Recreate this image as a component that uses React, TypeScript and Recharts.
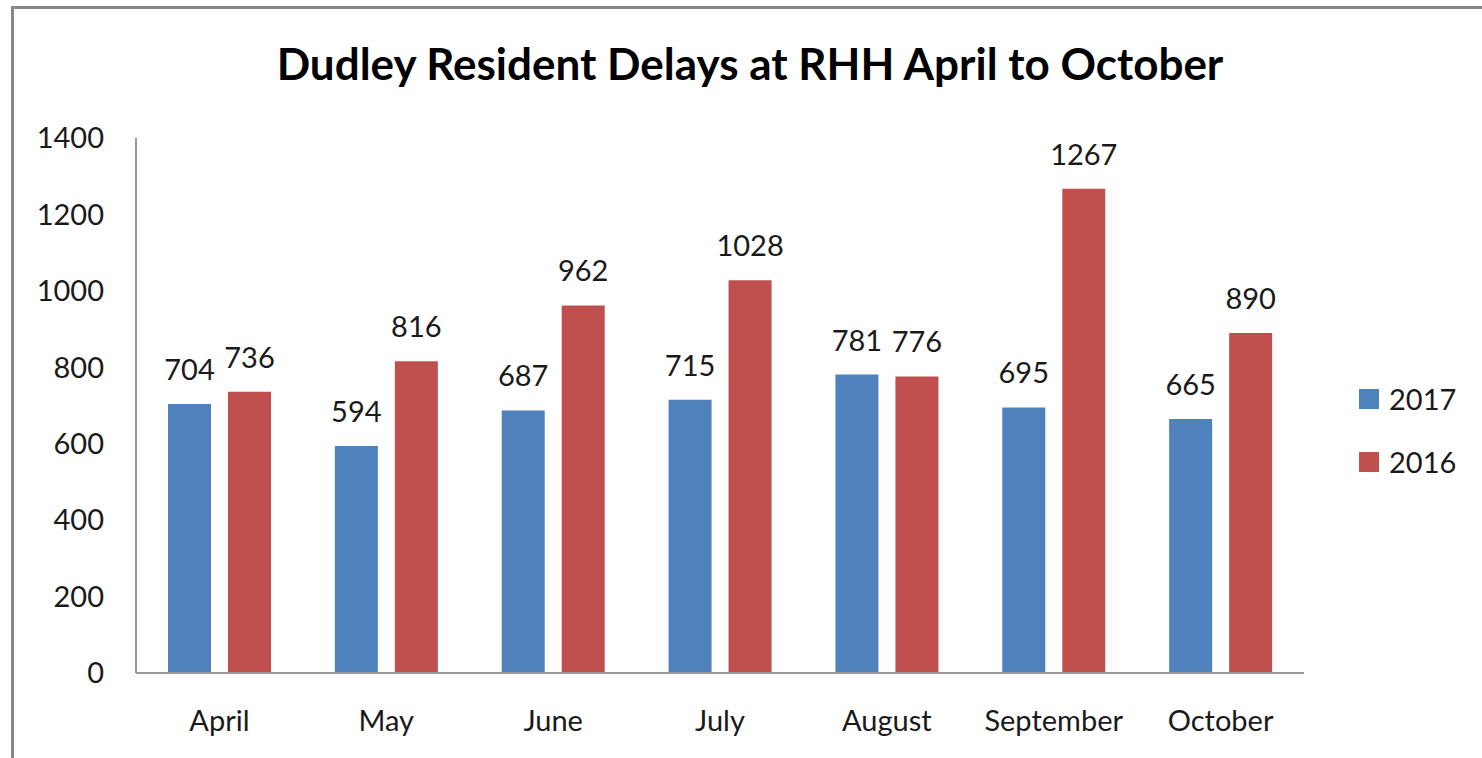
import { Bar, BarChart, LabelList, Legend, XAxis, YAxis } from "recharts";

const months = ["April", "May", "June", "July", "August", "September", "October"];
const delays2017 = [704, 594, 687, 715, 781, 695, 665];
const delays2016 = [736, 816, 962, 1028, 776, 1267, 890];
const yTicks = [0, 200, 400, 600, 800, 1000, 1200, 1400];
const legendOrder = ["2017", "2016"];

const BLUE = "#4F81BD";
const RED = "#C0504D";
const FONT = "Lato, 'Open Sans', sans-serif";
const TEXT = "#1a1a1a";

const data = months.map((m, i) => ({
  month: m,
  y2017: delays2017[i],
  y2016: delays2016[i],
}));

function LegendBox({ payload }: { payload?: any[] }) {
  const items = [...(payload ?? [])].sort(
    (a, b) => legendOrder.indexOf(a.value) - legendOrder.indexOf(b.value)
  );
  return (
    <div style={{ fontFamily: FONT, fontSize: 29, color: TEXT }}>
      {items.map((p) => (
        <div
          key={p.value}
          style={{ display: "flex", alignItems: "center", height: 63 }}
        >
          <span
            style={{
              display: "inline-block",
              width: 20,
              height: 20,
              background: p.color,
              marginRight: 10,
            }}
          />
          {p.value}
        </div>
      ))}
    </div>
  );
}

export default function App() {
  return (
    <div
      style={{
        position: "fixed",
        left: 0,
        top: 0,
        width: 1482,
        height: 758,
        background: "#fff",
        overflow: "hidden",
      }}
    >
      <div
        style={{
          position: "absolute",
          left: 11,
          top: 6,
          width: 1500,
          height: 800,
          borderLeft: "3px solid #888",
          borderTop: "3px solid #888",
        }}
      />
      <div
        style={{
          position: "absolute",
          left: 0,
          top: 37,
          width: 1500,
          textAlign: "center",
          fontFamily: FONT,
          fontWeight: 700,
          fontSize: 44,
          lineHeight: 1.2,
          color: "#000",
        }}
      >
        Dudley Resident Delays at RHH April to October
      </div>
      <BarChart
        width={1482}
        height={758}
        data={data}
        margin={{ top: 138, right: 178, bottom: 25, left: 0 }}
        barCategoryGap={32}
        barGap={17}
        style={{ position: "absolute", left: 0, top: 0 }}
      >
        <XAxis
          dataKey="month"
          height={60}
          axisLine={{ stroke: "#999", strokeWidth: 2 }}
          tickLine={false}
          tickMargin={31}
          tick={{ fontSize: 29, fontFamily: FONT, fill: TEXT }}
          interval={0}
        />
        <YAxis
          width={136}
          domain={[0, 1400]}
          ticks={yTicks}
          axisLine={{ stroke: "#999", strokeWidth: 2 }}
          tickLine={false}
          tickMargin={26}
          tick={{ fontSize: 29, fontFamily: FONT, fill: TEXT }}
        />
        <Legend
          layout="horizontal"
          align="center"
          verticalAlign="middle"
          wrapperStyle={{ left: 1359, top: 367, width: 120 }}
          content={(props: any) => <LegendBox payload={props.payload} />}
        />
        <Bar dataKey="y2017" name="2017" fill={BLUE} isAnimationActive={false}>
          <LabelList
            dataKey="y2017"
            position="top"
            offset={24}
            style={{ fontSize: 29, fontFamily: FONT, fill: TEXT }}
          />
        </Bar>
        <Bar dataKey="y2016" name="2016" fill={RED} isAnimationActive={false}>
          <LabelList
            dataKey="y2016"
            position="top"
            offset={24}
            style={{ fontSize: 29, fontFamily: FONT, fill: TEXT }}
          />
        </Bar>
      </BarChart>
    </div>
  );
}
